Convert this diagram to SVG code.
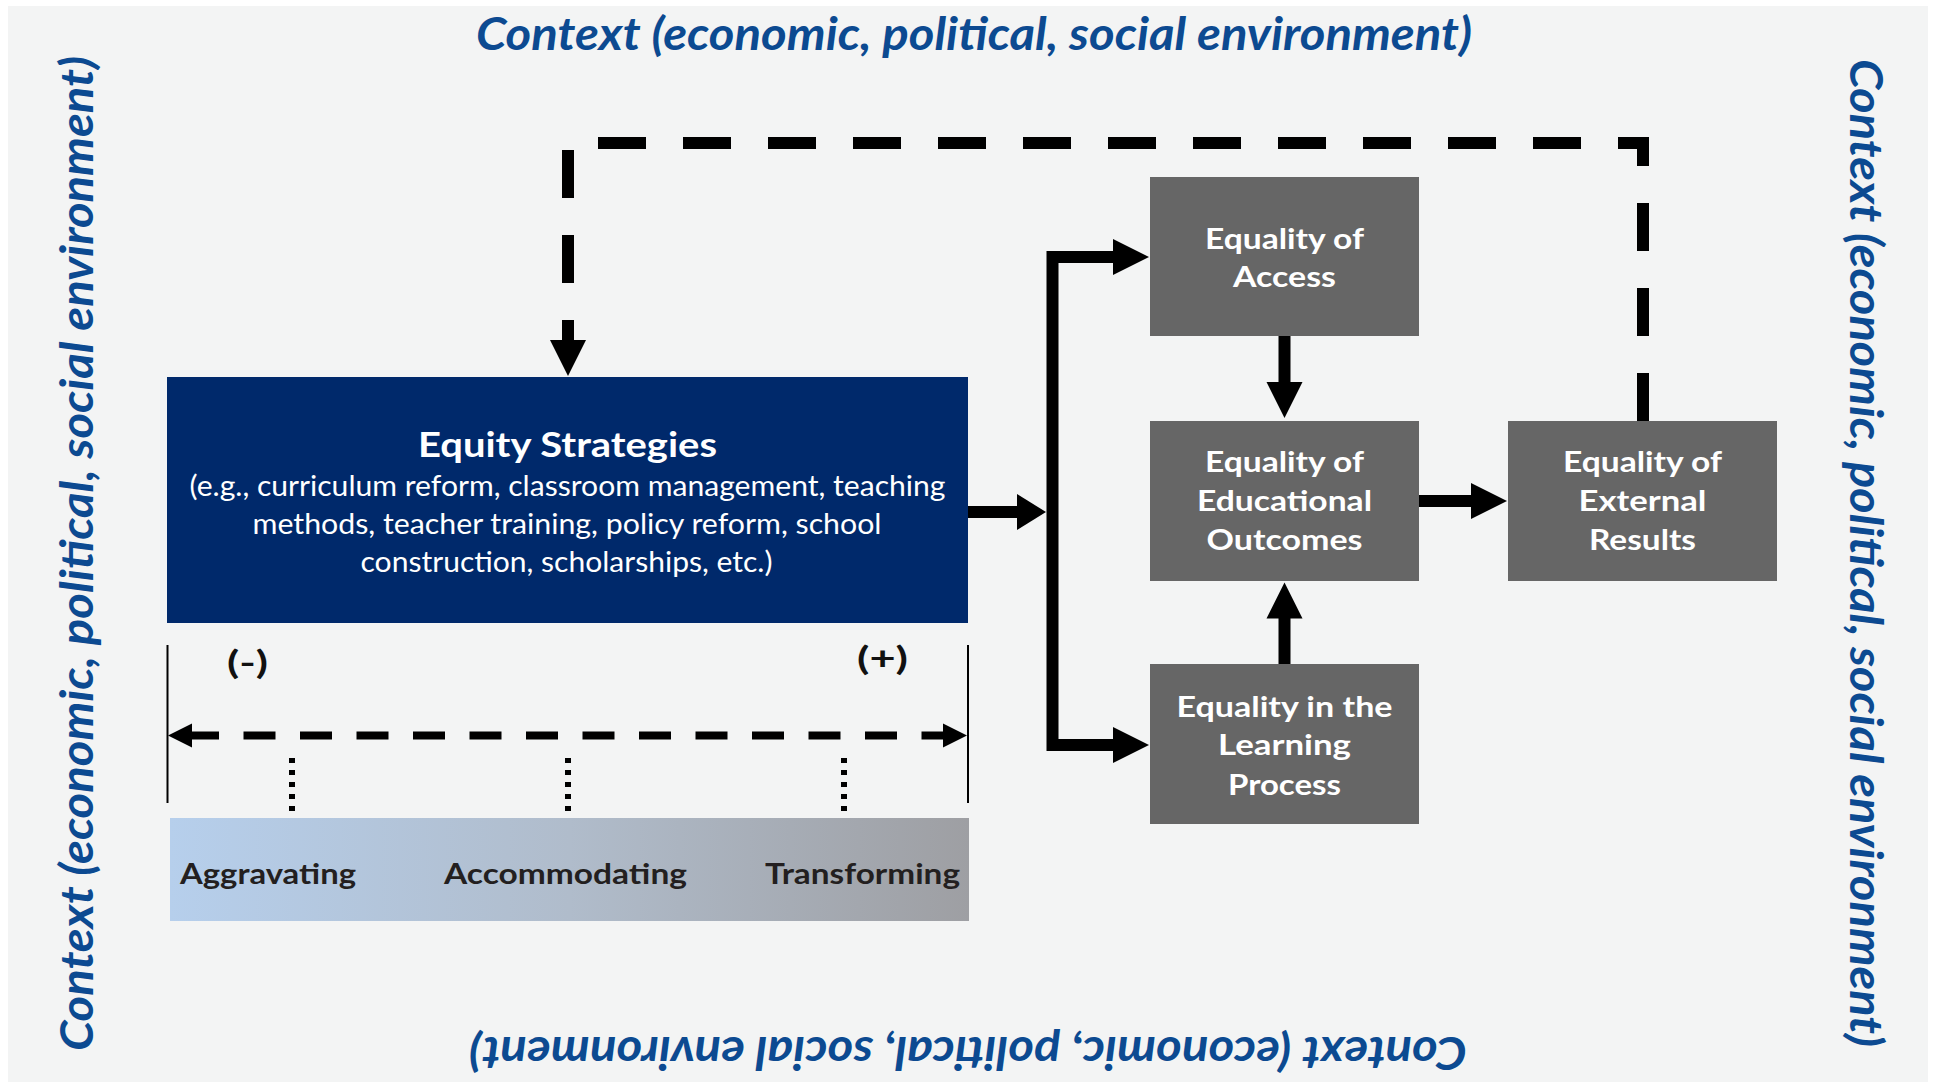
<svg xmlns="http://www.w3.org/2000/svg" width="1937" height="1091" viewBox="0 0 1937 1091">
  <style>
    .ctx { font-family: Lato, "Open Sans", "Liberation Sans", sans-serif; font-weight: 700; font-style: italic; font-size: 46px; fill: #0c4a91; }
    .node { fill: #666666; }
    .ntxt { font-family: Lato, "Liberation Sans", sans-serif; font-weight: 700; font-size: 28px; fill: #ffffff; text-anchor: middle; }
    .stitle { font-family: Lato, "Liberation Sans", sans-serif; font-weight: 700; font-size: 35px; fill: #ffffff; text-anchor: middle; }
    .sbody { font-family: Lato, "Liberation Sans", sans-serif; font-weight: 400; font-size: 28px; fill: #ffffff; text-anchor: middle; }
    .lbl { font-family: Lato, "Liberation Sans", sans-serif; font-weight: 700; font-size: 28px; fill: #231f20; text-anchor: middle; }
    .pm { font-family: Lato, "Liberation Sans", sans-serif; font-weight: 700; font-size: 33px; fill: #111111; text-anchor: middle; }
    .solid { fill: none; stroke: #000; stroke-width: 12; stroke-linejoin: miter; }
  </style>
  <defs>
    <marker id="arrow" markerUnits="userSpaceOnUse" markerWidth="36" markerHeight="36" refX="1" refY="18" orient="auto" overflow="visible">
      <path d="M0,0 L36,18 L0,36 Z" fill="#000"/>
    </marker>
    <marker id="arrowShort" markerUnits="userSpaceOnUse" markerWidth="29" markerHeight="36" refX="1" refY="18" orient="auto" overflow="visible">
      <path d="M0,0 L29,18 L0,36 Z" fill="#000"/>
    </marker>
    <marker id="arrowSmall" markerUnits="userSpaceOnUse" markerWidth="24" markerHeight="24" refX="1" refY="12" orient="auto-start-reverse" overflow="visible">
      <path d="M0,0 L24,12 L0,24 Z" fill="#000"/>
    </marker>
    <linearGradient id="spectrum" x1="0" y1="0" x2="1" y2="0">
      <stop offset="0" stop-color="#b6cfec"/>
      <stop offset="0.5" stop-color="#b0bccb"/>
      <stop offset="1" stop-color="#9e9fa3"/>
    </linearGradient>
  </defs>

  <rect x="0" y="0" width="1937" height="1091" fill="#ffffff"/>
  <rect x="8" y="6" width="1920" height="1076" fill="#f3f4f4"/>

  <g id="context-labels">
    <text class="ctx" x="974" y="50" text-anchor="middle" textLength="996" lengthAdjust="spacingAndGlyphs">Context (economic, political, social environment)</text>
    <text class="ctx" transform="translate(93,553.5) rotate(-90)" x="0" y="0" text-anchor="middle" textLength="995" lengthAdjust="spacingAndGlyphs">Context (economic, political, social environment)</text>
    <text class="ctx" transform="translate(1850,553) rotate(90)" x="0" y="0" text-anchor="middle" textLength="988" lengthAdjust="spacingAndGlyphs">Context (economic, political, social environment)</text>
    <text class="ctx" transform="translate(968,1037) rotate(180)" x="0" y="0" text-anchor="middle" textLength="998" lengthAdjust="spacingAndGlyphs">Context (economic, political, social environment)</text>
  </g>

  <g id="connectors">
    <line x1="966" y1="512" x2="1018" y2="512" class="solid" marker-end="url(#arrowShort)"/>
    <path d="M1052.5,512 V257 H1114" class="solid" marker-end="url(#arrow)"/>
    <path d="M1052.5,512 V745 H1114" class="solid" marker-end="url(#arrow)"/>
    <path d="M1284.5,336 V383" class="solid" marker-end="url(#arrow)"/>
    <path d="M1284.5,664 V617.5" class="solid" marker-end="url(#arrow)"/>
    <path d="M1419,501 H1472" class="solid" marker-end="url(#arrow)"/>
    <path d="M1643,421 V143 H568 V341" fill="none" stroke="#000" stroke-width="12" stroke-dasharray="48 37" marker-end="url(#arrow)"/>
  </g>

  <g id="equity-strategies">
    <rect x="167" y="377" width="801" height="246" fill="#00296b"/>
    <text class="stitle" x="567.5" y="457" textLength="299" lengthAdjust="spacingAndGlyphs">Equity Strategies</text>
    <text class="sbody" x="567.5" y="496" textLength="756" lengthAdjust="spacingAndGlyphs">(e.g., curriculum reform, classroom management, teaching</text>
    <text class="sbody" x="567" y="534" textLength="629" lengthAdjust="spacingAndGlyphs">methods, teacher training, policy reform, school</text>
    <text class="sbody" x="566.5" y="572" textLength="412" lengthAdjust="spacingAndGlyphs">construction, scholarships, etc.)</text>
  </g>

  <g id="strategy-spectrum">
    <line x1="167.5" y1="645" x2="167.5" y2="803" stroke="#000" stroke-width="2"/>
    <line x1="968" y1="645" x2="968" y2="803" stroke="#000" stroke-width="2"/>
    <text class="pm" x="247.5" y="674" textLength="41" lengthAdjust="spacingAndGlyphs">(-)</text>
    <text class="pm" x="882.5" y="670" textLength="51" lengthAdjust="spacingAndGlyphs">(+)</text>
    <path d="M191,735.5 H944" fill="none" stroke="#000" stroke-width="8" stroke-dasharray="32 24.5" stroke-dashoffset="4" marker-start="url(#arrowSmall)" marker-end="url(#arrowSmall)"/>
    <g stroke="#000" stroke-width="6" stroke-dasharray="5 7">
      <line x1="292" y1="758" x2="292" y2="812"/>
      <line x1="568" y1="758" x2="568" y2="812"/>
      <line x1="844" y1="758" x2="844" y2="812"/>
    </g>
    <rect x="170" y="818" width="799" height="103" fill="url(#spectrum)"/>
    <text class="lbl" x="268" y="884" textLength="176" lengthAdjust="spacingAndGlyphs">Aggravating</text>
    <text class="lbl" x="565.5" y="884" textLength="243" lengthAdjust="spacingAndGlyphs">Accommodating</text>
    <text class="lbl" x="862.5" y="884" textLength="195" lengthAdjust="spacingAndGlyphs">Transforming</text>
  </g>

  <g id="equality-access">
    <rect class="node" x="1150" y="177" width="269" height="159"/>
    <text class="ntxt" x="1284.5" y="249" textLength="159" lengthAdjust="spacingAndGlyphs">Equality of</text>
    <text class="ntxt" x="1284.5" y="287" textLength="103" lengthAdjust="spacingAndGlyphs">Access</text>
  </g>

  <g id="equality-outcomes">
    <rect class="node" x="1150" y="421" width="269" height="160"/>
    <text class="ntxt" x="1284.5" y="472" textLength="159" lengthAdjust="spacingAndGlyphs">Equality of</text>
    <text class="ntxt" x="1284.5" y="511" textLength="175" lengthAdjust="spacingAndGlyphs">Educational</text>
    <text class="ntxt" x="1284.5" y="550" textLength="156" lengthAdjust="spacingAndGlyphs">Outcomes</text>
  </g>

  <g id="equality-learning">
    <rect class="node" x="1150" y="664" width="269" height="160"/>
    <text class="ntxt" x="1284.5" y="717" textLength="216" lengthAdjust="spacingAndGlyphs">Equality in the</text>
    <text class="ntxt" x="1284.5" y="755" textLength="133" lengthAdjust="spacingAndGlyphs">Learning</text>
    <text class="ntxt" x="1284.5" y="795" textLength="113" lengthAdjust="spacingAndGlyphs">Process</text>
  </g>

  <g id="equality-external">
    <rect class="node" x="1508" y="421" width="269" height="160"/>
    <text class="ntxt" x="1642.5" y="472" textLength="159" lengthAdjust="spacingAndGlyphs">Equality of</text>
    <text class="ntxt" x="1642.5" y="511" textLength="128" lengthAdjust="spacingAndGlyphs">External</text>
    <text class="ntxt" x="1642.5" y="550" textLength="107" lengthAdjust="spacingAndGlyphs">Results</text>
  </g>
</svg>
